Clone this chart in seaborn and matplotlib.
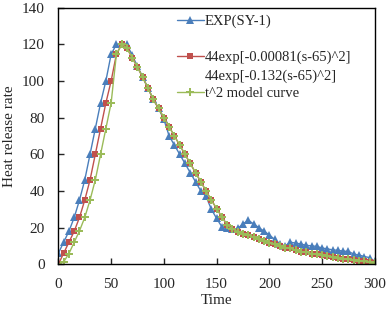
import matplotlib
matplotlib.use("Agg")
import matplotlib.pyplot as plt
from matplotlib.lines import Line2D
import seaborn as sns

# ------------------------------
# Data
# ------------------------------
time = list(range(0, 305, 5))

exp_sy1 = [6, 12, 18, 25.5, 35, 46, 60, 74, 88, 100, 114.6, 120, 120, 120,
           114, 108, 102, 96, 90, 85, 79, 70, 65, 60, 55, 50, 45, 40, 37, 30,
           25, 20.4, 19.5, 19, 19.5, 22, 24, 22, 20, 18, 16, 13.5, 11, 10,
           12, 11.5, 11, 10.3, 10, 9.7, 8.8, 8.4, 7.8, 7.6, 7.1, 7, 5.5, 5,
           4.2, 3.6, 1.5]

# rising part differs, decay part is shared by both model curves
gauss_rise = [0, 6, 12, 18, 25.5, 35, 46, 60, 74, 88, 100, 114.6, 120]
t2_rise = [0, 1.3, 5.8, 12, 18.2, 25.5, 35, 46, 60, 74, 88, 114.6, 120]
model_decay = [118, 112.6, 107.5, 102, 96, 90, 85, 80, 75, 70, 65, 60, 55,
               50, 45, 40, 35, 30.4, 25.8, 21.5, 19.2, 17.8, 16.7, 15.8, 14.9,
               13.8, 12.5, 11.6, 10.9, 9.8, 9.1, 8.6, 7.6, 6.9, 6.5, 5.8, 5.3,
               4.9, 4.4, 4, 3.5, 3.1, 2.7, 2.2, 1.8, 1.5, 1.1, 0.7]

gauss_model = gauss_rise + model_decay
t2_model = t2_rise + model_decay

labels = ["EXP(SY-1)", "44exp[-0.00081(s-65)^2]", "44exp[-0.132(s-65)^2]",
          "t^2 model curve"]
colors = ["#4A7EBB", "#C0504D", "#9BBB59"]

# ------------------------------
# Figure
# ------------------------------
sns.set_style("white")
plt.rcParams["font.family"] = ["Liberation Serif", "DejaVu Serif"]

fig, ax = plt.subplots(figsize=(3.88, 3.09), dpi=100)
fig.subplots_adjust(left=0.1505, right=0.966, top=0.975, bottom=0.145)

sns.lineplot(x=time, y=exp_sy1, ax=ax, color=colors[0], lw=1,
             marker="^", markersize=5.5, markeredgewidth=0)
sns.lineplot(x=time, y=gauss_model, ax=ax, color=colors[1], lw=1,
             marker="s", markersize=4.2, markeredgewidth=0)
sns.lineplot(x=time, y=t2_model, ax=ax, color=colors[2], lw=1,
             marker="P", markersize=5.5, markeredgewidth=0)

ax.set_xlim(0, 300)
ax.set_ylim(0, 140)
ax.set_xticks(range(0, 301, 50))
ax.set_yticks(range(0, 141, 20))
ax.tick_params(axis="both", direction="in", length=4, width=1, labelsize=11,
               bottom=True, left=True, pad=10)
for sp in ax.spines.values():
    sp.set_color("black")
    sp.set_linewidth(1)

ax.set_xlabel("Time", fontsize=11, labelpad=2)
ax.set_ylabel("Heat release rate", fontsize=11, labelpad=4)

# legend: blank row after EXP, second formula shares the red entry
blank = Line2D([], [], color="none")
handles = [
    Line2D([], [], color=colors[0], lw=1, marker="^", markersize=5.5, markeredgewidth=0),
    blank,
    Line2D([], [], color=colors[1], lw=1, marker="s", markersize=4.2, markeredgewidth=0),
    blank,
    Line2D([], [], color=colors[2], lw=1, marker="P", markersize=5.5, markeredgewidth=0),
]
leg_labels = [labels[0], "", labels[1], labels[2], labels[3]]
ax.legend(handles, leg_labels, loc="upper left", bbox_to_anchor=(0.355, 0.995),
          frameon=False, fontsize=10.5, handlelength=1.85, handletextpad=0.1,
          labelspacing=0.32, borderaxespad=0)

plt.savefig("out.png", dpi=100)
plt.close()
